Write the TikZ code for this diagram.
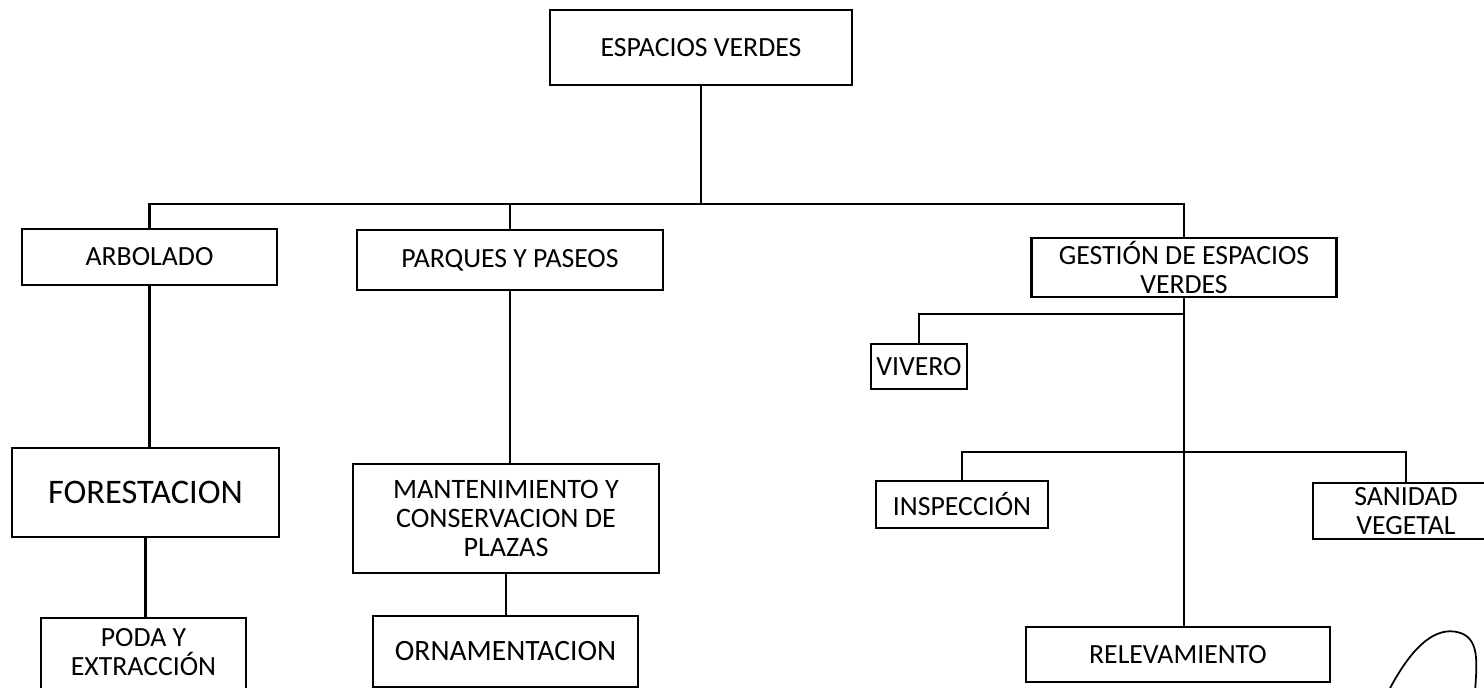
\documentclass[tikz,border=0pt]{standalone}
\usepackage{fontspec}
\setmainfont{Carlito}
\usetikzlibrary{positioning}

\begin{document}
\begin{tikzpicture}
	[x=0.02cm, y=-0.02cm,
	box/.style={draw, line width=1.5pt, rectangle, align=center, inner sep=0pt, text centered, font=\fontsize{15.8}{16.5}\selectfont},
	edge/.style={line width=1.5pt}]
	\useasboundingbox (0,0) rectangle (1484,688);
	\clip (0,0) rectangle (1484,688);
	% nodes %
	\node[box, minimum width=6.04cm, minimum height=1.5cm] (root) at (701,47.5) {ESPACIOS VERDES};
	\node[box, minimum width=5.1cm, minimum height=1.12cm] (arbolado) at (149.5,257) {ARBOLADO};
	\node[box, minimum width=6.12cm, minimum height=1.2cm] (parques) at (510,260) {PARQUES Y PASEOS};
	\node[box, minimum width=6.1cm, minimum height=1.18cm] (gestion) at (1184,267.5) {GESTIÓN DE ESPACIOS\\VERDES};
	\node[box, minimum width=1.92cm, minimum height=0.9cm] (vivero) at (919,366.5) {VIVERO};
	\node[box, minimum width=5.34cm, minimum height=1.78cm, font=\fontsize{19.6}{21}\selectfont] (forestacion) at (145.5,492.5) {FORESTACION};
	\node[box, minimum width=6.12cm, minimum height=2.18cm, font=\fontsize{16}{16.5}\selectfont] (mantenimiento) at (506,518.5) {MANTENIMIENTO Y\\CONSERVACION DE\\PLAZAS};
	\node[box, minimum width=3.44cm, minimum height=0.94cm] (inspeccion) at (962,504.5) {INSPECCIÓN};
	\node[box, minimum width=3.72cm, minimum height=1.12cm] (sanidad) at (1406,511) {SANIDAD\\VEGETAL};
	\node[box, minimum width=4.1cm, minimum height=1.92cm] (poda) at (143.5,666) {PODA Y\\EXTRACCIÓN\\\mbox{}};
	\node[box, minimum width=5.3cm, minimum height=1.42cm, font=\fontsize{16.8}{17}\selectfont] (ornamentacion) at (505.5,651.5) {ORNAMENTACION};
	\node[box, minimum width=6.08cm, minimum height=1.1cm] (relevamiento) at (1178,654.5) {RELEVAMIENTO};
	\coordinate (bus) at (701,204);
	\coordinate (vjoin) at (1184,314);
	\coordinate (ijoin) at (1184,452);

	% edges %
	\draw[edge] (root.south) -- (bus);
	\draw[edge] (bus) -| (arbolado.north);
	\draw[edge] (bus) -| (parques.north);
	\draw[edge] (bus) -| (gestion.north);
	\draw[edge] (arbolado.south) -- (arbolado.south |- forestacion.north);
	\draw[edge] (forestacion.south) -- (forestacion.south |- poda.north);
	\draw[edge] (parques.south) -- (parques.south |- mantenimiento.north);
	\draw[edge] (mantenimiento.south) -- (mantenimiento.south |- ornamentacion.north);
	\draw[edge] (gestion.south) -- (gestion.south |- relevamiento.north);
	\draw[edge] (vjoin) -| (vivero.north);
	\draw[edge] (ijoin) -| (inspeccion.north);
	\draw[edge] (ijoin) -| (sanidad.north);

	% firma %
	\draw[line width=1pt] (1388,692) .. controls (1415,640) and (1438,628) .. (1457,632) .. controls (1480,637) and (1477,662) .. (1475,692);
\end{tikzpicture}
\end{document}
